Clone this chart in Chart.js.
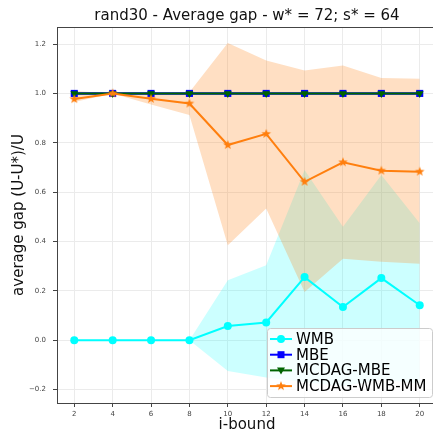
<!DOCTYPE html>
<html>
<head>
<meta charset="utf-8">
<script src="https://cdn.jsdelivr.net/npm/chart.js@4/dist/chart.umd.min.js"></script>
<style>
  html, body { margin: 0; padding: 0; background: #fff; overflow: hidden; }
  #wrap { width: 433px; height: 434px; overflow: hidden; }
  canvas { display: block; }
</style>
</head>
<body>
<div id="wrap"><canvas id="my_Chart" width="445" height="434"></canvas></div>
<script>
// values
var iBound = [2, 4, 6, 8, 10, 12, 14, 16, 18, 20];
var wmbMean  = [0, 0, 0, 0, 0.058, 0.072, 0.256, 0.135, 0.252, 0.142];
var wmbUpper = [0, 0, 0, 0, 0.243, 0.304, 0.69, 0.46, 0.67, 0.474];
var wmbLower = [0, 0, 0, 0, -0.124, -0.151, -0.17, -0.185, -0.16, -0.175];
var mbeMean   = [1, 1, 1, 1, 1, 1, 1, 1, 1, 1];
var mcdagMean = [1, 1, 1, 1, 1, 1, 1, 1, 1, 1];
var mmMean  = [0.977, 1.0, 0.978, 0.959, 0.791, 0.836, 0.642, 0.721, 0.687, 0.683];
var mmUpper = [1.01, 1.0, 1.0, 1.005, 1.204, 1.133, 1.093, 1.113, 1.062, 1.059];
var mmLower = [0.965, 1.0, 0.955, 0.913, 0.385, 0.534, 0.196, 0.33, 0.318, 0.31];
var xTicks = [2, 4, 6, 8, 10, 12, 14, 16, 18, 20];
var yTicks = [-0.2, 0, 0.2, 0.4, 0.6, 0.8, 1.0, 1.2];
var legendNames = ['WMB', 'MBE', 'MCDAG-MBE', 'MCDAG-WMB-MM'];

var FONT = '"DejaVu Sans", sans-serif';
var ORANGE = '#ff7f0e';

function pts(arr) {
	return arr.map(function (v, i) { return { x: iBound[i], y: v }; });
}

// filled star like matplotlib's '*'
function makeStar(r) {
	var c = document.createElement('canvas');
	var s = Math.ceil(r * 2 + 2);
	c.width = s; c.height = s;
	var g = c.getContext('2d');
	g.beginPath();
	for (var k = 0; k < 10; k++) {
		var rr = (k % 2 === 0) ? r : r * 0.42;
		var a = -Math.PI / 2 + k * Math.PI / 5;
		var px = s / 2 + rr * Math.cos(a), py = s / 2 + rr * Math.sin(a);
		if (k === 0) g.moveTo(px, py); else g.lineTo(px, py);
	}
	g.closePath();
	g.fillStyle = ORANGE;
	g.fill();
	return c;
}
var starImg = makeStar(5);

function drawMarker(ctx, style, x, y, color) {
	ctx.save();
	ctx.fillStyle = color;
	ctx.beginPath();
	if (style === 'circle') {
		ctx.arc(x, y, 4, 0, Math.PI * 2);
		ctx.fill();
	} else if (style === 'rect') {
		ctx.fillRect(x - 3.5, y - 3.5, 7, 7);
	} else if (style === 'tri') {
		ctx.moveTo(x - 4, y - 3);
		ctx.lineTo(x + 4, y - 3);
		ctx.lineTo(x, y + 4);
		ctx.closePath();
		ctx.fill();
	} else {
		ctx.drawImage(starImg, x - starImg.width / 2, y - starImg.height / 2);
	}
	ctx.restore();
}

var legendItems = [
	{ color: '#00ffff', style: 'circle', lw: 2 },
	{ color: '#0000ff', style: 'rect', lw: 2 },
	{ color: '#006400', style: 'tri', lw: 2 },
	{ color: ORANGE, style: 'star', lw: 2 }
];

var boxPlugin = {
	id: 'boxAndLegend',
	afterDraw: function (chart) {
		var ctx = chart.ctx, a = chart.chartArea;
		ctx.save();
		ctx.strokeStyle = '#444';
		ctx.lineWidth = 1;
		ctx.strokeRect(a.left + 0.5, a.top + 0.5, a.right - a.left, a.bottom - a.top);

		// legend box, lower right inside the axes
		var right = a.right - 5, bottom = a.bottom - 6;
		var w = 165, h = 69;
		var left = right - w, top = bottom - h;
		ctx.beginPath();
		if (ctx.roundRect) ctx.roundRect(left + 0.5, top + 0.5, w, h, 3);
		else ctx.rect(left + 0.5, top + 0.5, w, h);
		ctx.fillStyle = 'rgba(255,255,255,0.8)';
		ctx.fill();
		ctx.strokeStyle = '#cccccc';
		ctx.stroke();

		ctx.font = '15px ' + FONT;
		ctx.textBaseline = 'middle';
		ctx.textAlign = 'left';
		for (var i = 0; i < legendNames.length; i++) {
			var it = legendItems[i];
			var cy = top + 11 + i * 15.7;
			ctx.strokeStyle = it.color;
			ctx.lineWidth = it.lw;
			ctx.beginPath();
			ctx.moveTo(left + 3, cy);
			ctx.lineTo(left + 25, cy);
			ctx.stroke();
			drawMarker(ctx, it.style, left + 14, cy, it.color);
			ctx.fillStyle = '#000';
			ctx.fillText(legendNames[i], left + 29, cy + 1);
		}
		ctx.restore();
	}
};

var ctx = document.getElementById('my_Chart').getContext('2d');
var myChart = new Chart(ctx, {
	type: 'line',
	data: {
		datasets: [
			{ label: 'MCDAG-WMB-MM', data: pts(mmMean), borderColor: ORANGE, backgroundColor: ORANGE,
			  borderWidth: 2, pointStyle: starImg, pointRadius: 5, fill: false, order: 0 },
			{ label: 'MCDAG-MBE', data: pts(mcdagMean), borderColor: '#006400', backgroundColor: '#006400',
			  borderWidth: 2, pointStyle: 'triangle', rotation: 180, pointRadius: 4.5, pointBorderWidth: 0, fill: false, order: 1 },
			{ label: 'MBE', data: pts(mbeMean), borderColor: '#0000ff', backgroundColor: '#0000ff',
			  borderWidth: 2.5, pointStyle: 'rect', pointRadius: 5, pointBorderWidth: 0, fill: false, order: 2 },
			{ label: 'WMB', data: pts(wmbMean), borderColor: '#00ffff', backgroundColor: '#00ffff',
			  borderWidth: 2, pointStyle: 'circle', pointRadius: 4, pointBorderWidth: 0, fill: false, order: 3 },
			// bands (upper filled to the next dataset = lower)
			{ label: 'mm_up', data: pts(mmUpper), borderWidth: 0, pointRadius: 0, fill: '+1',
			  backgroundColor: 'rgba(255,127,14,0.25)', borderColor: 'rgba(0,0,0,0)', order: 10 },
			{ label: 'mm_lo', data: pts(mmLower), borderWidth: 0, pointRadius: 0, fill: false,
			  borderColor: 'rgba(0,0,0,0)', order: 10 },
			{ label: 'wmb_up', data: pts(wmbUpper), borderWidth: 0, pointRadius: 0, fill: '+1',
			  backgroundColor: 'rgba(0,255,255,0.2)', borderColor: 'rgba(0,0,0,0)', order: 11 },
			{ label: 'wmb_lo', data: pts(wmbLower), borderWidth: 0, pointRadius: 0, fill: false,
			  borderColor: 'rgba(0,0,0,0)', order: 11 }
		]
	},
	options: {
		responsive: false,
		animation: false,
		devicePixelRatio: 1,
		layout: { padding: { left: 0, right: 8, top: 0, bottom: 0 } },
		elements: { line: { tension: 0 } },
		plugins: {
			legend: { display: false },
			tooltip: { enabled: false },
			filler: { drawTime: 'beforeDatasetsDraw' },
			title: {
				display: true,
				text: 'rand30 - Average gap - w* = 72; s* = 64',
				fullSize: false,
				color: '#111',
				font: { family: FONT, size: 15, weight: 'normal' },
				padding: { top: 7, bottom: 2 }
			}
		},
		scales: {
			x: {
				type: 'linear',
				min: 1.1,
				max: 20.9,
				afterBuildTicks: function (s) { s.ticks = xTicks.map(function (v) { return { value: v }; }); },
				afterFit: function (s) { s.height = 31; },
				ticks: {
					font: { family: FONT, size: 7 },
					color: '#444',
					padding: 3,
					maxRotation: 0,
					callback: function (v) { return String(v); }
				},
				grid: { color: '#ebebeb', tickColor: '#444', tickLength: 4 },
				border: { color: '#444', width: 1 },
				title: {
					display: true, text: 'i-bound', color: '#111',
					font: { family: FONT, size: 15 },
					padding: { top: 0, bottom: 0 }
				}
			},
			y: {
				min: -0.254,
				max: 1.269,
				afterBuildTicks: function (s) { s.ticks = yTicks.map(function (v) { return { value: v }; }); },
				afterFit: function (s) { s.width = 57; },
				ticks: {
					font: { family: FONT, size: 7 },
					color: '#444',
					padding: 7,
					callback: function (v) { return v.toFixed(1).replace('-', '\u2212'); }
				},
				grid: { color: '#ebebeb', tickColor: '#444', tickLength: 4 },
				border: { color: '#444', width: 1 },
				title: {
					display: true, text: 'average gap (U-U*)/U', color: '#111',
					font: { family: FONT, size: 15 },
					padding: { top: 10, bottom: 0 }
				}
			}
		}
	},
	plugins: [boxPlugin]
});
</script>
</body>
</html>
